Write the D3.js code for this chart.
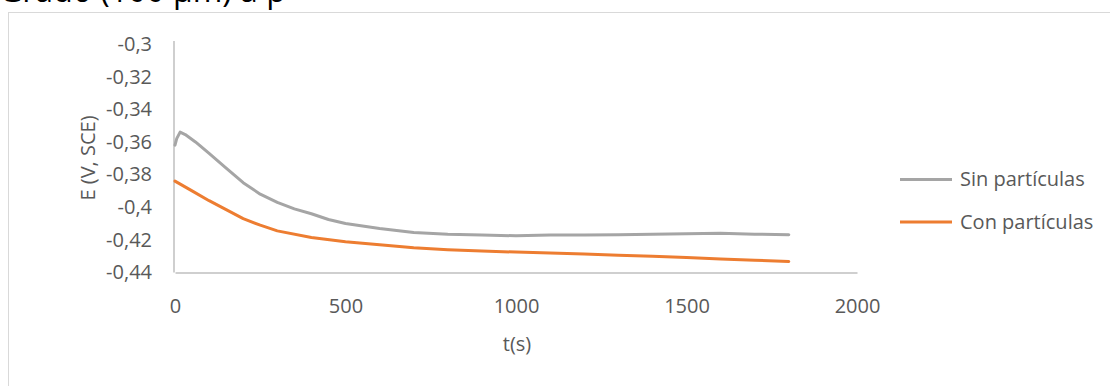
<!DOCTYPE html>
<html><head><meta charset="utf-8">
<script src="https://cdn.jsdelivr.net/npm/d3@7"></script>
<style>
html,body{margin:0;padding:0;background:#fff;overflow:hidden}
text{font-family:"Open Sans",sans-serif;fill:#595959}
</style></head>
<body>
<svg id="c" width="1110" height="386"></svg>
<script>
const titleText = "Grado (100 µm) a p";
const seriesNames = ["Sin partículas", "Con partículas"];
const seriesColors = ["#a5a5a5", "#ed7d31"];
const xTicks = [0, 500, 1000, 1500, 2000];
const yTicks = [-0.3, -0.32, -0.34, -0.36, -0.38, -0.4, -0.42, -0.44];
const timeSin = [0, 5, 15, 30, 60, 100, 150, 200, 250, 300, 350, 400, 450, 500, 600, 700, 800, 900, 1000, 1100, 1200, 1300, 1400, 1500, 1600, 1700, 1800];
const valSin = [-0.362, -0.358, -0.354, -0.3555, -0.360, -0.367, -0.376, -0.385, -0.392, -0.397, -0.401, -0.404, -0.4075, -0.410, -0.413, -0.4155, -0.4165, -0.417, -0.4175, -0.417, -0.417, -0.4168, -0.4165, -0.4163, -0.416, -0.4165, -0.4168];
const timeCon = [0, 50, 100, 150, 200, 250, 300, 400, 500, 600, 700, 800, 900, 1000, 1100, 1200, 1300, 1400, 1500, 1600, 1700, 1800];
const valCon = [-0.384, -0.390, -0.396, -0.4015, -0.407, -0.411, -0.4145, -0.4185, -0.4212, -0.423, -0.4248, -0.426, -0.4268, -0.4275, -0.428, -0.4287, -0.4295, -0.430, -0.4308, -0.4318, -0.4325, -0.4333];

const svg = d3.select("#c");
// cut-off title
svg.append("text").attr("x", -1).attr("y", 2).style("font-size", "32px").style("fill", "#000").text(titleText);
// chart border
svg.append("rect").attr("x", 8.5).attr("y", 12.5).attr("width", 1200).attr("height", 500)
  .attr("fill", "none").attr("stroke", "#d9d9d9");

const x = d3.scaleLinear().domain([0, 2000]).range([175, 857]);
const y = d3.scaleLinear().domain([-0.44, -0.3]).range([272.5, 44]);
const fmt = d => String(+d.toFixed(2)).replace(".", ",");

const xAxis = svg.append("g").attr("transform", "translate(0,272.5)")
  .call(d3.axisBottom(x).tickValues(xTicks).tickSize(0).tickPadding(26).tickFormat(d => d));
xAxis.select(".domain").attr("stroke", "#bfbfbf").attr("stroke-width", 1.5);
xAxis.selectAll("text").style("font-size", "20px").style("fill", "#595959").style("font-family", "Open Sans");

const yAxis = svg.append("g").attr("transform", "translate(174,0)")
  .call(d3.axisLeft(y).tickValues(yTicks).tickSize(0).tickPadding(22).tickFormat(fmt));
yAxis.select(".domain").attr("stroke", "#bfbfbf").attr("stroke-width", 1.5).attr("d", "M0,41V272.5");
yAxis.selectAll("text").style("font-size", "20px").style("fill", "#595959").style("font-family", "Open Sans");

svg.append("text").attr("transform", "translate(95,158) rotate(-90)").attr("text-anchor", "middle")
  .style("font-size", "20px").text("E (V, SCE)");
svg.append("text").attr("x", 517).attr("y", 351).attr("text-anchor", "middle").style("font-size", "20px").text("t(s)");

const line = d3.line().x(d => x(d[0])).y(d => y(d[1]));
const series = [d3.zip(timeSin, valSin), d3.zip(timeCon, valCon)];
series.forEach((s, i) => {
  svg.append("path").datum(s).attr("d", line).attr("fill", "none")
    .attr("stroke", seriesColors[i]).attr("stroke-width", 3).attr("stroke-linejoin", "round").attr("stroke-linecap", "round");
});

const legY = [179.5, 222];
seriesNames.forEach((n, i) => {
  svg.append("line").attr("x1", 900).attr("x2", 952).attr("y1", legY[i]).attr("y2", legY[i])
    .attr("stroke", seriesColors[i]).attr("stroke-width", 3);
  svg.append("text").attr("x", 960).attr("y", legY[i] + 6.5)
    .style("font-size", "20px").text(n);
});
</script>
</body></html>
